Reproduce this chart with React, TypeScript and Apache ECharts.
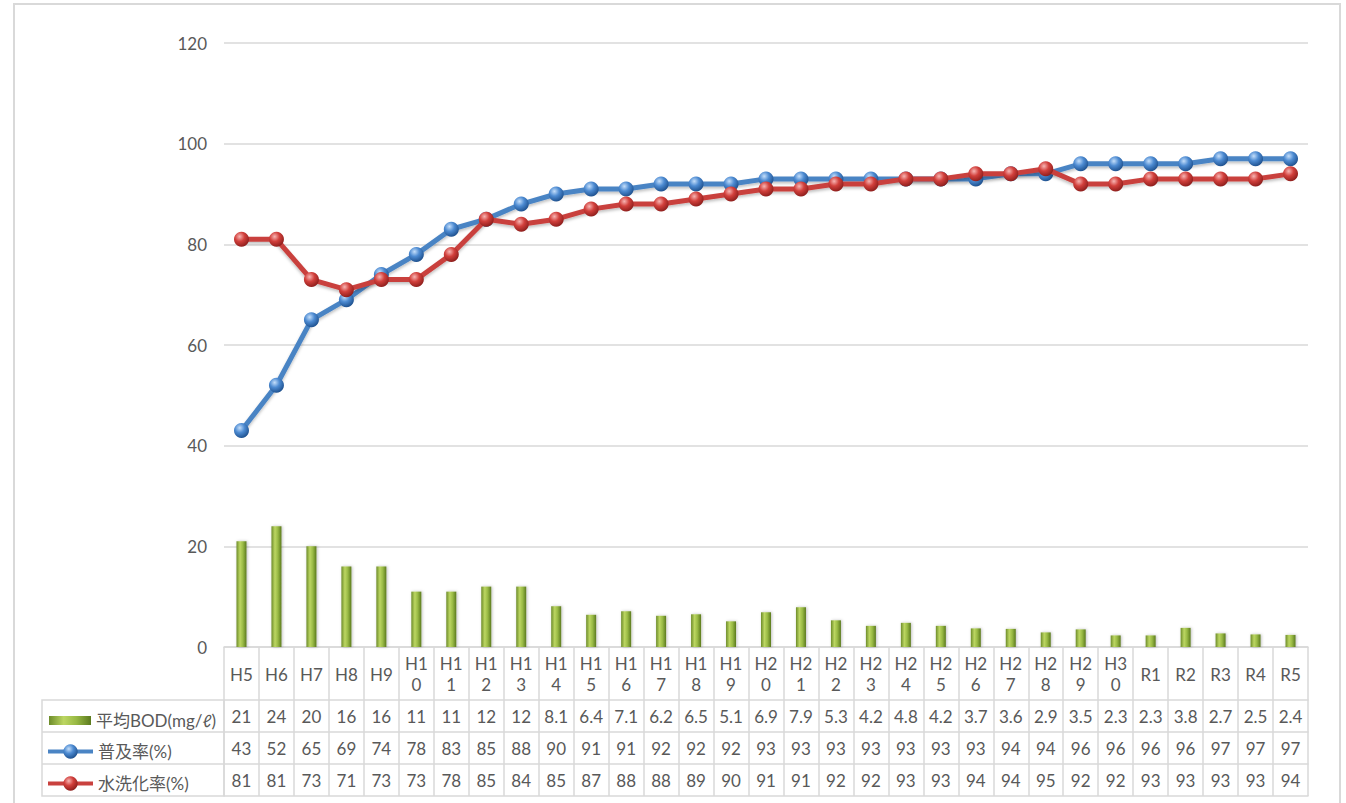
import React, { useEffect, useRef } from "react";
import * as echarts from "echarts";

const categories = [
  "H5", "H6", "H7", "H8", "H9", "H10", "H11", "H12", "H13", "H14", "H15", "H16", "H17", "H18", "H19", "H20",
  "H21", "H22", "H23", "H24", "H25", "H26", "H27", "H28", "H29", "H30", "R1", "R2", "R3", "R4", "R5",
];
const bodValues = [21, 24, 20, 16, 16, 11, 11, 12, 12, 8.1, 6.4, 7.1, 6.2, 6.5, 5.1, 6.9, 7.9, 5.3, 4.2, 4.8, 4.2, 3.7, 3.6, 2.9, 3.5, 2.3, 2.3, 3.8, 2.7, 2.5, 2.4];
const fukyuValues = [43, 52, 65, 69, 74, 78, 83, 85, 88, 90, 91, 91, 92, 92, 92, 93, 93, 93, 93, 93, 93, 93, 94, 94, 96, 96, 96, 96, 97, 97, 97];
const suisenValues = [81, 81, 73, 71, 73, 73, 78, 85, 84, 85, 87, 88, 88, 89, 90, 91, 91, 92, 92, 93, 93, 94, 94, 95, 92, 92, 93, 93, 93, 93, 94];
const yTicks = [0, 20, 40, 60, 80, 100, 120];
const seriesNames = ["平均BOD(mg/ℓ)", "普及率(%)", "水洗化率(%)"];

const FONT = "Lato, 'Noto Sans CJK JP', sans-serif";
const TEXT = "#595959";
const GRID = "#d9d9d9";

export default function App() {
  const ref = useRef<HTMLDivElement>(null);
  useEffect(() => {
    if (!ref.current) return;
    const chart = echarts.init(ref.current, null, { renderer: "svg" });

    const ball = (hi: string, mid: string, dark: string) =>
      new echarts.graphic.RadialGradient(0.38, 0.32, 0.72, [
        { offset: 0, color: hi },
        { offset: 0.45, color: mid },
        { offset: 1, color: dark },
      ]);
    const barGrad = new echarts.graphic.LinearGradient(0, 0, 1, 0, [
      { offset: 0, color: "#6d8c2a" },
      { offset: 0.35, color: "#bcd662" },
      { offset: 0.65, color: "#98b944" },
      { offset: 1, color: "#5b7a1e" },
    ]);

    const tableRows = [bodValues, fukyuValues, suisenValues];
    const rowAxes = tableRows.map((vals, r) => ({
      type: "category",
      data: categories,
      position: "bottom",
      offset: 53 + r * 32,
      gridIndex: 0,
      boundaryGap: true,
      axisLine: { show: true, lineStyle: { color: GRID, width: 1.5 } },
      axisTick: { show: true, interval: 0, length: 32, lineStyle: { color: GRID, width: 1.5 } },
      axisLabel: {
        interval: 0,
        margin: 16,
        verticalAlign: "middle",
        color: TEXT,
        fontSize: 17,
        fontFamily: FONT,
        formatter: (_v: string, i: number) => String(vals[i]),
      },
      splitLine: { show: false },
    }));

    const legendBase = {
      orient: "horizontal",
      itemWidth: 42,
      selectedMode: false,
      textStyle: { color: TEXT, fontSize: 17, fontFamily: FONT },
    };

    const option: any = {
      animation: false,
      grid: { left: 224, right: 38, top: 43, bottom: 156, containLabel: false },
      legend: [
        {
          ...legendBase,
          top: 707,
          left: 44,
          itemHeight: 14,
          data: [{ name: seriesNames[0], icon: "path://M0,2.5L42,2.5L42,11.5L0,11.5Z M0,0L0.1,0 M0,14L0.1,14" }],
        },
        {
          ...legendBase,
          top: 738,
          left: 41,
          itemWidth: 45,
          itemHeight: 18,
          lineStyle: { width: 4 },
          data: [{ name: seriesNames[1] }],
        },
        {
          ...legendBase,
          top: 770,
          left: 41,
          itemWidth: 45,
          itemHeight: 18,
          lineStyle: { width: 4 },
          data: [{ name: seriesNames[2] }],
        },
      ],
      xAxis: [
        {
          type: "category",
          data: categories,
          position: "bottom",
          boundaryGap: true,
          axisLine: { show: true, lineStyle: { color: GRID, width: 1.5 } },
          axisTick: { show: true, interval: 0, length: 53, lineStyle: { color: GRID, width: 1.5 } },
          axisLabel: {
            interval: 0,
            margin: 27,
            verticalAlign: "middle",
            color: TEXT,
            fontSize: 17,
            lineHeight: 21,
            fontFamily: FONT,
            formatter: (v: string) => (v.length > 2 && v[0] === "H" ? v.slice(0, 2) + "\n" + v.slice(2) : v),
          },
        },
        ...rowAxes,
        {
          type: "category",
          data: categories,
          position: "bottom",
          offset: 149,
          gridIndex: 0,
          axisLine: { show: true, lineStyle: { color: GRID, width: 1.5 } },
          axisTick: { show: false },
          axisLabel: { show: false },
        },
      ],
      yAxis: {
        type: "value",
        min: yTicks[0],
        max: yTicks[yTicks.length - 1],
        interval: 20,
        axisLine: { show: false },
        axisTick: { show: false },
        axisLabel: { color: TEXT, fontSize: 17, fontFamily: FONT, margin: 17 },
        splitLine: { lineStyle: { color: GRID, width: 1.5 } },
      },
      graphic: [
        {
          type: "rect",
          shape: { x: 14, y: 4, width: 1326, height: 820 },
          style: { fill: "none", stroke: GRID, lineWidth: 2 },
          silent: true,
        },
        {
          type: "rect",
          shape: { x: 42, y: 700, width: 182, height: 96 },
          style: { fill: "none", stroke: GRID, lineWidth: 1.5 },
          silent: true,
        },
        {
          type: "line",
          shape: { x1: 42, y1: 732, x2: 224, y2: 732 },
          style: { stroke: GRID, lineWidth: 1.5 },
          silent: true,
        },
        {
          type: "line",
          shape: { x1: 42, y1: 764, x2: 224, y2: 764 },
          style: { stroke: GRID, lineWidth: 1.5 },
          silent: true,
        },
      ],
      series: [
        {
          name: seriesNames[0],
          type: "bar",
          xAxisIndex: 0,
          data: bodValues,
          barWidth: 10,
          itemStyle: { color: barGrad, shadowColor: "rgba(0,0,0,0.25)", shadowBlur: 3, shadowOffsetX: 1 },
          z: 2,
        },
        {
          name: seriesNames[1],
          type: "line",
          xAxisIndex: 0,
          data: fukyuValues,
          symbol: "circle",
          symbolSize: 15,
          lineStyle: { color: "#4a84c4", width: 5, shadowColor: "rgba(0,0,0,0.25)", shadowBlur: 3, shadowOffsetY: 2 },
          itemStyle: { color: ball("#c4defa", "#4d8bd2", "#1b4d8a") },
          z: 3,
        },
        {
          name: seriesNames[2],
          type: "line",
          xAxisIndex: 0,
          data: suisenValues,
          symbol: "circle",
          symbolSize: 15,
          lineStyle: { color: "#c9413e", width: 5, shadowColor: "rgba(0,0,0,0.25)", shadowBlur: 3, shadowOffsetY: 2 },
          itemStyle: { color: ball("#f7b5b3", "#d2403c", "#8a1c1a") },
          z: 4,
        },
      ],
    };
    chart.setOption(option);
    return () => chart.dispose();
  }, []);
  return (
    <div
      ref={ref}
      style={{ position: "absolute", left: 0, top: 0, width: 1346, height: 803, background: "#fff" }}
    />
  );
}
